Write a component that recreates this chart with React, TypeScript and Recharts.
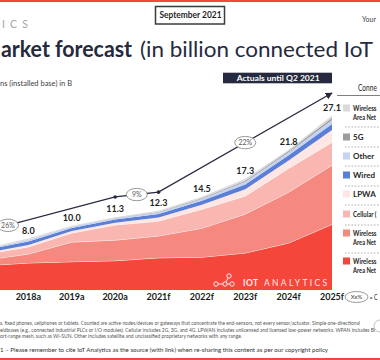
import React from 'react';
import { ComposedChart, Area, Line, XAxis, YAxis, ReferenceDot, LabelList } from 'recharts';

// ---------- data ----------
const years = [2017, 2018, 2019, 2020, 2021, 2022, 2023, 2024, 2025];
const yearLabels = ['2017a', '2018a', '2019a', '2020a', '2021f', '2022f', '2023f', '2024f', '2025f'];
const tickYears = [2018, 2019, 2020, 2021, 2022, 2023, 2024, 2025];

const wpan = [3.8, 4.2, 4.4, 4.55, 5.0, 5.1, 5.75, 7.3, 10.2];
const wlan = [0.85, 1.4, 3.05, 3.2, 3.4, 4.5, 6.05, 7.9, 9.2];
const cellular = [0.9, 1.1, 1.4, 2.35, 2.3, 2.95, 2.8, 3.7, 3.55];
const lpwa = [0.2, 0.3, 0.3, 0.35, 0.55, 0.7, 1.05, 1.2, 1.9];
const wired = [0.45, 0.55, 0.5, 0.5, 0.55, 0.6, 0.75, 0.85, 0.95];
const other = [0.15, 0.25, 0.2, 0.2, 0.25, 0.3, 0.4, 0.45, 0.6];
const fiveG = [0, 0, 0, 0.02, 0.05, 0.1, 0.18, 0.2, 0.3];
const wnan = [0.1, 0.2, 0.15, 0.13, 0.2, 0.25, 0.32, 0.2, 0.4];

const totals = [null, 8.0, 10.0, 11.3, 12.3, 14.5, 17.3, 21.8, 27.1];
const trend = [9.1, null, null, 14.45, 15.2, null, null, null, 30.6];
const cagrYears = [2017.53, 2020.5, 2023.0];
const cagrLabels = ['26%', '9%', '22%'];

// legend names as far as they are visible in the cropped reference
const series = [
  { key: 'wpan', values: wpan, color: '#f4463a', line: true, name: ['Wireless', 'Area Net'] },
  { key: 'wlan', values: wlan, color: '#f6897f', line: true, name: ['Wireless', 'Area Net'] },
  { key: 'cellular', values: cellular, color: '#fab6b0', line: true, name: ['Cellular ('] },
  { key: 'lpwa', values: lpwa, color: '#fde6e4', line: false, name: ['LPWA'] },
  { key: 'wired', values: wired, color: '#5b7fd7', line: false, name: ['Wired'] },
  { key: 'other', values: other, color: '#c4d3f1', line: false, name: ['Other'] },
  { key: 'fiveG', values: fiveG, color: '#9c9c9c', line: false, name: ['5G'] },
  { key: 'wnan', values: wnan, color: '#dadada', line: false, name: ['Wireless', 'Area Net'] },
];

const data = years.map((y, i) => {
  const row: any = { year: y, total: totals[i], trend: trend[i] };
  series.forEach((s) => (row[s.key] = s.values[i]));
  return row;
});

const trendAt = (x: number) => {
  const pts = years.map((y, i) => [y, trend[i]] as [number, number | null]).filter((p) => p[1] != null) as [number, number][];
  for (let i = 0; i < pts.length - 1; i++) {
    const [x0, y0] = pts[i];
    const [x1, y1] = pts[i + 1];
    if (x >= x0 && x <= x1) return y0 + ((x - x0) / (x1 - x0)) * (y1 - y0);
  }
  return pts[pts.length - 1][1];
};

// ---------- layout (styles only) ----------
const NAVY = '#262a3e';
const legendRows = [
  { key: 'wnan', y: 108 },
  { key: 'fiveG', y: 137 },
  { key: 'other', y: 156 },
  { key: 'wired', y: 175 },
  { key: 'lpwa', y: 194 },
  { key: 'cellular', y: 214 },
  { key: 'wlan', y: 233 },
  { key: 'wpan', y: 261 },
];
const separators = [127, 147, 166, 186, 205, 225, 253];
const fitWidth: Record<string, number> = { Wireless: 23.5, 'Area Net': 23, 'Cellular (': 23.5 };

const TrendDot = (props: any) => {
  const { cx, cy, index } = props;
  if (cy == null || isNaN(cy) || index === 0 || index === years.length - 1) return <g key={`td${index}`} />;
  return <circle key={`td${index}`} cx={cx} cy={cy} r={1.8} fill={NAVY} />;
};

const Bubble = (label: string) => (props: any) => {
  const { cx, cy } = props;
  return (
    <g>
      <ellipse cx={cx} cy={cy} rx={10.5} ry={6.2} fill="#fff" stroke="#808080" strokeWidth={0.8} />
      <text x={cx} y={cy + 2.4} textAnchor="middle" fontSize={7} fill="#595959">{label}</text>
    </g>
  );
};

export default function App() {
  return (
    <div style={{ position: 'absolute', left: 0, top: 0, width: 380, height: 360, overflow: 'hidden', background: '#fff', fontFamily: 'Lato, sans-serif' }}>
      <div style={{ position: 'absolute', left: -15, top: 60 }}>
        <ComposedChart width={360} height={260} data={data} margin={{ top: 24, right: 13, bottom: 0, left: 0 }}>
          <XAxis
            type="number"
            dataKey="year"
            domain={[2017, 2025]}
            ticks={tickYears}
            interval={0}
            tickFormatter={(v: number) => yearLabels[years.indexOf(v)]}
            axisLine={false}
            tickLine={false}
            tickSize={0}
            tickMargin={4}
            height={30}
            tick={{ fontSize: 9, fontWeight: 700, fill: '#1a1a1a' }}
          />
          <YAxis hide domain={[0, 32]} />
          {series.map((s) => (
            <Area
              key={s.key}
              type="linear"
              dataKey={s.key}
              stackId="1"
              fill={s.color}
              fillOpacity={1}
              stroke={s.line ? '#ffffff' : 'none'}
              strokeWidth={s.line ? 0.9 : 0}
              isAnimationActive={false}
              activeDot={false}
            />
          ))}
          <Line dataKey="total" stroke="none" dot={false} activeDot={false} isAnimationActive={false}>
            <LabelList
              dataKey="total"
              position="top"
              offset={5}
              fill="#222"
              fontSize={9}
              fontWeight={700}
              formatter={(v: any) => (v == null ? '' : Number(v).toFixed(1))}
            />
          </Line>
          <Line
            dataKey="trend"
            type="linear"
            connectNulls
            stroke={NAVY}
            strokeWidth={1.3}
            dot={TrendDot}
            activeDot={false}
            isAnimationActive={false}
            markerEnd="url(#arrowHead)"
          />
          {cagrYears.map((x, i) => (
            <ReferenceDot key={i} x={x} y={trendAt(x)} r={10} shape={Bubble(cagrLabels[i])} ifOverflow="visible" />
          ))}
        </ComposedChart>
      </div>

      <svg width={380} height={360} style={{ position: 'absolute', left: 0, top: 0, pointerEvents: 'none' }}>
        <defs>
          <marker id="arrowHead" viewBox="0 0 10 10" refX="9" refY="5" markerWidth="7" markerHeight="7" markerUnits="userSpaceOnUse" orient="auto">
            <path d="M0,0 L10,5 L0,10 z" fill={NAVY} />
          </marker>
        </defs>
        {/* top and bottom red rules */}
        <rect x={0} y={0} width={380} height={2} fill="#f0493d" />
        <rect x={0} y={358} width={380} height={2} fill="#f0493d" />

        <text x={2} y={28.3} fontSize={10.5} fill="#a6a6a6" textLength={26} lengthAdjust="spacing">ICS</text>

        <rect x={155.5} y={6.5} width={69} height={17.5} fill="#fff" stroke="#3b3b3b" strokeWidth={1.5} />
        <text x={159.5} y={18.2} fontSize={8.8} fontWeight={700} fill="#1f1f1f" textLength={62} lengthAdjust="spacingAndGlyphs">September 2021</text>
        <text x={362} y={21.5} fontSize={7} fill="#404040" textLength={14} lengthAdjust="spacingAndGlyphs">Your</text>

        <text x={1} y={57} fontSize={22} fontWeight={700} fill={NAVY} textLength={131} lengthAdjust="spacingAndGlyphs">arket forecast</text>
        <text x={140} y={57} fontSize={22} fill={NAVY} textLength={233} lengthAdjust="spacingAndGlyphs">(in billion connected IoT</text>
        <text x={0} y={85.5} fontSize={7} fill="#404040" textLength={72} lengthAdjust="spacingAndGlyphs">ns (installed base) in B</text>

        <rect x={223} y={72.7} width={109} height={10.6} fill={NAVY} />
        <text x={236.7} y={81} fontSize={8} fontWeight={700} fill="#fff" textLength={83} lengthAdjust="spacingAndGlyphs">Actuals until Q2 2021</text>

        {/* legend */}
        <text x={358} y={91} fontSize={8.5} fill="#262626" textLength={19} lengthAdjust="spacingAndGlyphs">Conne</text>
        <line x1={337} x2={380} y1={95.5} y2={95.5} stroke="#7f7f7f" strokeWidth={1} />
        {separators.map((y) => (
          <line key={y} x1={345} x2={380} y1={y} y2={y} stroke="#9a9a9a" strokeWidth={0.8} strokeDasharray="1.6 1.6" />
        ))}
        {legendRows.map((r) => {
          const s = series.find((q) => q.key === r.key)!;
          return (
            <g key={r.key}>
              <rect x={343} y={r.y - 3.5} width={7} height={7} fill={s.color} />
              {s.name.map((n, j) =>
                fitWidth[n] ? (
                  <text key={j} x={353} y={r.y + 3 + j * 9} fontSize={8} fontWeight={700} fill="#262626" textLength={fitWidth[n]} lengthAdjust="spacingAndGlyphs">{n}</text>
                ) : (
                  <text key={j} x={353} y={r.y + 3 + j * 9} fontSize={8} fontWeight={700} fill="#262626">{n}</text>
                )
              )}
            </g>
          );
        })}

        {/* watermark */}
        <g stroke="#fff" strokeWidth={1} fill="none" opacity={0.9}>
          <line x1={216} y1={284} x2={225} y2={284} />
          <line x1={225} y1={284} x2={232} y2={284} />
          <line x1={225} y1={284} x2={229} y2={276} />
          <circle cx={216} cy={284} r={2.2} fill="#f4463a" />
          <circle cx={225} cy={284} r={2.2} fill="#f4463a" />
          <circle cx={232} cy={284} r={2.2} fill="#f4463a" />
          <circle cx={229} cy={276} r={2.2} fill="#f4463a" />
        </g>
        <text x={243} y={286} fontSize={8.5} fontWeight={700} fill="#fff" opacity={0.9} textLength={15} lengthAdjust="spacing">IOT</text>
        <text x={264} y={286} fontSize={8.5} fill="#fff" opacity={0.9} textLength={63} lengthAdjust="spacing">ANALYTICS</text>

        {/* CAGR key */}
        <ellipse cx={356.5} cy={297} rx={11.5} ry={5.5} fill="#fff" stroke="#808080" strokeWidth={0.8} />
        <text x={356.5} y={299.2} textAnchor="middle" fontSize={6} fill="#404040">Xx%</text>
        <text x={369.5} y={300} fontSize={8} fill="#262626" textLength={8} lengthAdjust="spacingAndGlyphs">= C</text>

        {/* footnotes */}
        <text x={0} y={325} fontSize={5} fill="#555" textLength={360} lengthAdjust="spacingAndGlyphs">s, fixed phones, cellphones or tablets. Counted are active nodes/devices or gateways that concentrate the end-sensors, not every sensor/actuator. Simple one-directional</text>
        <text x={0} y={331.5} fontSize={5} fill="#555" textLength={375} lengthAdjust="spacingAndGlyphs">eldbuses (e.g., connected industrial PLCs or I/O modules). Cellular includes 2G, 3G, and 4G. LPWAN includes unlicensed and licensed low-power networks. WPAN includes Bl</text>
        <text x={0} y={338} fontSize={5} fill="#555" textLength={242} lengthAdjust="spacingAndGlyphs">ort-range mesh, such as Wi-SUN. Other includes satellite and unclassified proprietary networks with any range.</text>
        <text x={0} y={351.5} fontSize={6.5} fill="#333" textLength={328} lengthAdjust="spacingAndGlyphs">1 – Please remember to cite IoT Analytics as the source (with link) when re-sharing this content as per our copyright policy</text>
        <circle cx={380} cy={326} r={6} fill="none" stroke="#b0b0b0" strokeWidth={0.8} />
      </svg>
    </div>
  );
}
